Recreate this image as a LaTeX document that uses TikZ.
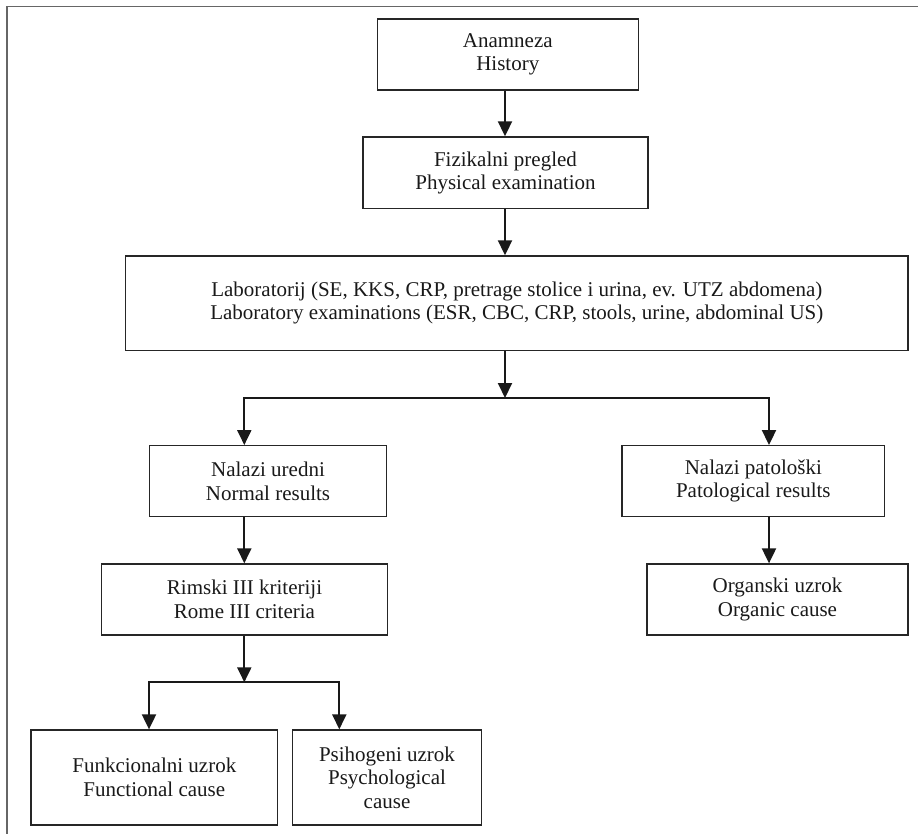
\documentclass[tikz,border=0pt]{standalone}
\usepackage{fontspec}
\setmainfont{Liberation Serif}
\usetikzlibrary{arrows.meta}
\begin{document}
\begin{tikzpicture}[x=1pt,y=-1pt,
  box/.style={draw=black!85,line width=1.3pt,rectangle,inner sep=0pt,align=center,
    text=black!90,font=\fontsize{21}{23.5}\selectfont},
  arr/.style={draw=black!90,line width=2pt,-{Triangle[length=15pt,width=14pt]}},
  frame/.style={draw=black!60,line width=1.3pt}]
\useasboundingbox (0,0) rectangle (918,834);
\draw[frame] (7,834) -- (7,6.7) -- (918,6.7);

\node[box,minimum width=261pt,minimum height=71pt] (hist) at (507.8,54.5) {Anamneza\\History};
\node[box,minimum width=285pt,minimum height=71.7pt] (fiz) at (505.5,172.8) {Fizikalni pregled\\Physical examination};
\node[box,minimum width=782.3pt,minimum height=94.5pt] (lab) at (516.8,303.2)
  {Laboratorij (SE, KKS, CRP, pretrage stolice i urina, ev. UTZ abdomena)\\Laboratory examinations (ESR, CBC, CRP, stools, urine, abdominal US)};
\node[box,minimum width=237.4pt,minimum height=71pt] (ured) at (268,481.2) {Nalazi uredni\\Normal results};
\node[box,minimum width=262.7pt,minimum height=71pt] (pato) at (753.3,481.2) {Nalazi patološki\\Patological results};
\node[box,minimum width=285.6pt,minimum height=71pt] (rim) at (244.5,599.5) {Rimski III kriteriji\\Rome III criteria};
\node[box,minimum width=261pt,minimum height=71pt] (org) at (777.5,599.5) {Organski uzrok\\Organic cause};
\node[box,minimum width=246.7pt,minimum height=95pt] (fun) at (154.3,777.5) {Funkcionalni uzrok\\Functional cause};
\node[box,minimum width=189.4pt,minimum height=95pt] (psi) at (387,777.5) {Psihogeni uzrok\\Psychological\\cause};

\coordinate (cx) at (505,0);
\coordinate (b1) at (505,398);
\coordinate (bL) at (244.3,398);
\coordinate (bR) at (769,398);
\coordinate (b2) at (244.3,682.3);
\coordinate (fL) at (149,682.3);
\coordinate (fR) at (339.3,682.3);

\draw[arr] (hist.south -| cx) -- (fiz.north -| cx);
\draw[arr] (fiz.south -| cx) -- (lab.north -| cx);
\draw[arr] (lab.south -| b1) -- (b1);
\draw[arr] (b1) -| (ured.north -| bL);
\draw[arr] (b1) -| (pato.north -| bR);
\draw[arr] (ured.south -| bL) -- (rim.north -| bL);
\draw[arr] (pato.south -| bR) -- (org.north -| bR);
\draw[arr] (rim.south -| b2) -- (b2);
\draw[arr] (b2) -| (fun.north -| fL);
\draw[arr] (b2) -| (psi.north -| fR);
\end{tikzpicture}
\end{document}
